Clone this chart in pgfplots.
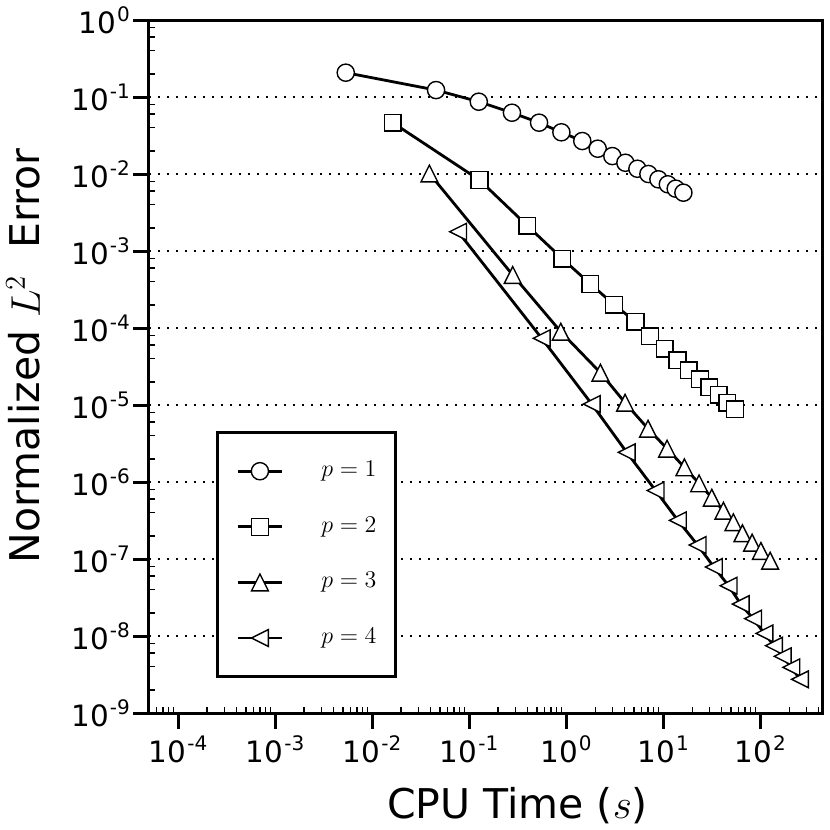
\documentclass[border=0pt]{standalone}
\usepackage{fontspec}
\setmainfont{DejaVu Sans}
\usepackage{pgfplots}
\pgfplotsset{compat=1.18}

\pgfdeclareplotmark{tup}{%
 \pgfpathmoveto{\pgfqpoint{0pt}{\pgfplotmarksize}}%
 \pgfpathlineto{\pgfqpoint{-\pgfplotmarksize}{-\pgfplotmarksize}}%
 \pgfpathlineto{\pgfqpoint{\pgfplotmarksize}{-\pgfplotmarksize}}%
 \pgfpathclose\pgfusepathqfillstroke}
\pgfdeclareplotmark{tleft}{%
 \pgfpathmoveto{\pgfqpoint{-\pgfplotmarksize}{0pt}}%
 \pgfpathlineto{\pgfqpoint{\pgfplotmarksize}{\pgfplotmarksize}}%
 \pgfpathlineto{\pgfqpoint{\pgfplotmarksize}{-\pgfplotmarksize}}%
 \pgfpathclose\pgfusepathqfillstroke}
\newcommand\tlab[1]{10\kern0.6pt\raisebox{6pt}{\fontsize{10}{12}\selectfont #1}}

\begin{document}
\begin{tikzpicture}
\useasboundingbox (-74.5pt,-58.5pt) rectangle (340.5pt,356.5pt);
\begin{axis}[
  at={(0pt,0pt)}, anchor=south west,
  scale only axis, width=336.5pt, height=346.5pt,
  xmode=log, ymode=log, log basis x=10, log basis y=10,
  xmin=5.02e-5, xmax=4.35e2, ymin=1e-9, ymax=1,
  axis line style={line width=1.5pt},
  xtick={1e-4,1e-3,1e-2,1e-1,1,1e1,1e2},
  ytick={1e-9,1e-8,1e-7,1e-6,1e-5,1e-4,1e-3,1e-2,1e-1,1},
  minor xtick={6e-5,7e-5,8e-5,9e-5,
    2e-4,3e-4,4e-4,5e-4,6e-4,7e-4,8e-4,9e-4,
    2e-3,3e-3,4e-3,5e-3,6e-3,7e-3,8e-3,9e-3,
    2e-2,3e-2,4e-2,5e-2,6e-2,7e-2,8e-2,9e-2,
    0.2,0.3,0.4,0.5,0.6,0.7,0.8,0.9,
    2,3,4,5,6,7,8,9,
    20,30,40,50,60,70,80,90,
    200,300,400},
  minor ytick={2e-9,4e-9,6e-9,8e-9,2e-8,4e-8,6e-8,8e-8,
    2e-7,4e-7,6e-7,8e-7,2e-6,4e-6,6e-6,8e-6,
    2e-5,4e-5,6e-5,8e-5,2e-4,4e-4,6e-4,8e-4,
    2e-3,4e-3,6e-3,8e-3,2e-2,4e-2,6e-2,8e-2,
    0.2,0.4,0.6,0.8},
  xtick pos=bottom, ytick pos=left,
  tick align=outside,
  major tick length=8pt,
  minor tick length=-3pt,
  major tick style={line width=1.5pt, black},
  minor tick style={line width=0.75pt, black},
  xticklabel={\tlab{\pgfmathparse{int(round(\tick))}\pgfmathresult}},
  yticklabel={\tlab{\pgfmathparse{int(round(\tick))}\pgfmathresult}},
  ticklabel style={font=\fontsize{14.7}{17}\selectfont},
  yticklabel style={xshift=2pt},
  ymajorgrids,
  major grid style={black, line width=0.8pt, dash pattern=on 1pt off 3.5pt},
  xlabel={CPU Time ($s$)},
  ylabel={Normalized $L^2$\ \ Error},
  every axis x label/.style={at={(axis description cs:0.5476,-0.1515)}, anchor=base, font=\fontsize{20.5}{24}\selectfont},
  every axis y label/.style={at={(axis description cs:-0.162,0.515)}, rotate=90, anchor=base, font=\fontsize{20.5}{24}\selectfont},
  legend image code/.code={\draw[mark repeat=2,mark phase=2] plot coordinates {(0pt,0pt) (11pt,0pt) (22pt,0pt)};},
  legend style={at={(0.0996,0.0505)}, anchor=south west, draw=black, line width=1.5pt, fill=white,
    inner xsep=9.5pt, inner ysep=14pt, row sep=17.3pt, column sep=19pt,
    nodes={inner sep=0pt, text height=8pt, text depth=2.5pt},
    font=\fontsize{12.5}{14}\selectfont},
  legend cell align=left,
]
\addplot[black, line width=1.4pt, mark=*, mark size=4.3pt, mark options={fill=white, line width=0.7pt}]
 table {
0.00536 0.207
0.0457 0.123
0.126 0.0869
0.277 0.0625
0.527 0.0464
0.895 0.0348
1.47 0.0268
2.12 0.0213
3.00 0.0171
4.09 0.0140
5.44 0.0117
7.06 0.0100
8.96 0.00853
11.2 0.00735
13.5 0.00645
16.2 0.00572
};
\addlegendentry{$p=1$}
\addplot[black, line width=1.4pt, mark=square*, mark size=4.2pt, mark options={fill=white, line width=0.7pt}]
 table {
0.01634 0.0464
0.128 0.00836
0.399 0.00213
0.916 7.94e-4
1.78 3.73e-4
3.13 2.01e-4
5.19 1.21e-4
7.35 7.80e-5
10.4 5.38e-5
14.1 3.81e-5
18.4 2.82e-5
24.1 2.16e-5
30.0 1.70e-5
37.5 1.36e-5
46.0 1.07e-5
55.2 8.79e-6
};
\addlegendentry{$p=2$}
\addplot[black, line width=1.4pt, mark=tup, mark size=4.2pt, mark options={fill=white, line width=0.7pt}]
 table {
0.0390 0.01015
0.282 4.88e-4
0.882 8.95e-5
2.26 2.63e-5
4.06 1.07e-5
7.00 4.92e-6
11.0 2.71e-6
16.6 1.55e-6
23.5 9.6e-7
31.8 6.25e-7
41.9 4.24e-7
53.1 3.0e-7
65.8 2.16e-7
82.8 1.63e-7
102 1.27e-7
127 9.5e-8
};
\addlegendentry{$p=3$}
\addplot[black, line width=1.4pt, mark=tleft, mark size=4.2pt, mark options={fill=white, line width=0.7pt}]
 table {
0.0771 1.78e-3
0.561 7.35e-5
1.84 1.03e-5
4.22 2.43e-6
8.37 7.76e-7
14.2 3.18e-7
22.7 1.52e-7
33.4 7.87e-8
47.4 4.50e-8
63.2 2.60e-8
84.7 1.68e-8
111 1.08e-8
139 7.48e-9
171 5.45e-9
210 3.92e-9
258 2.74e-9
};
\addlegendentry{$p=4$}
\end{axis}
\end{tikzpicture}
\end{document}
